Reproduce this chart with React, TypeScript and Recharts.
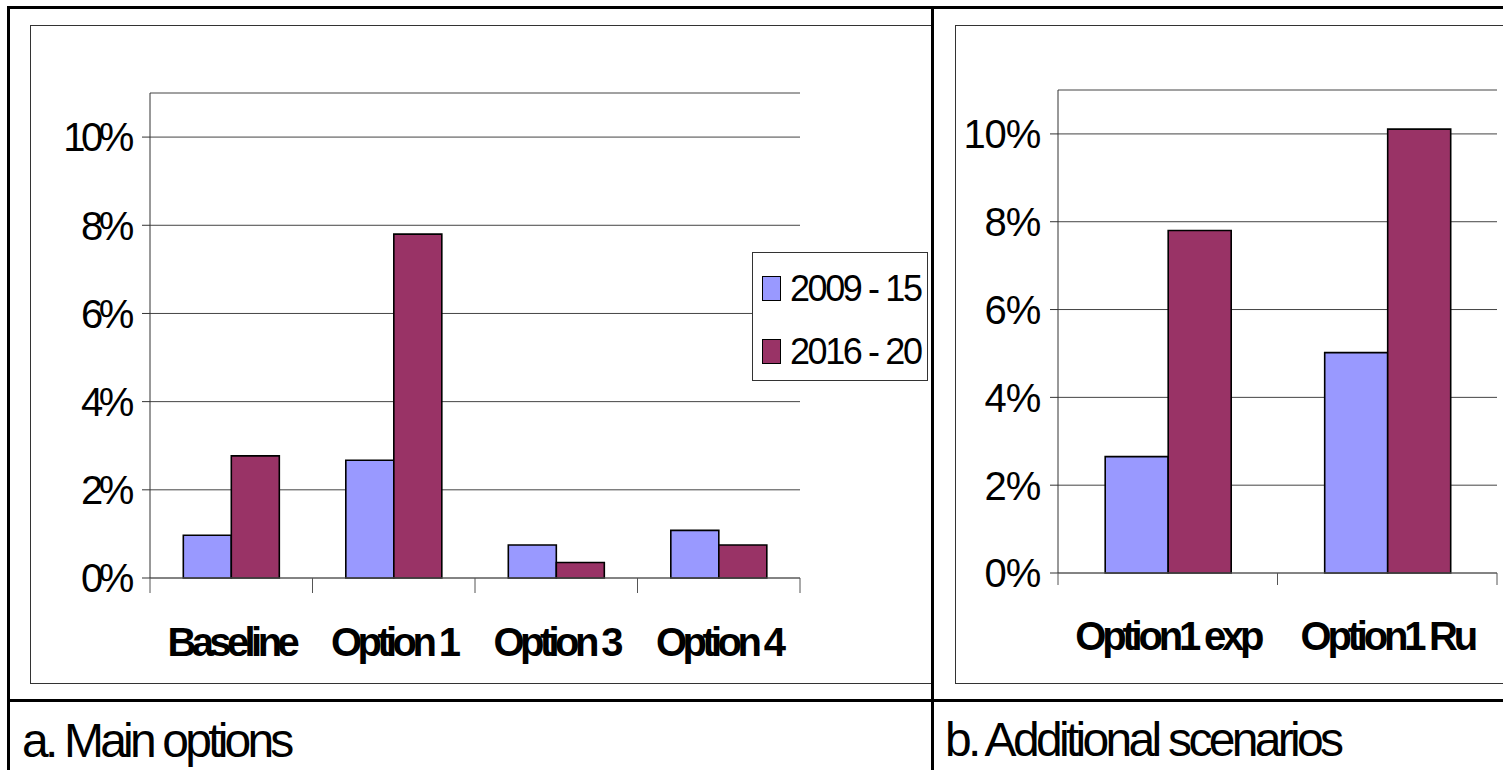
import React from "react";
import {
  BarChart,
  Bar,
  XAxis,
  YAxis,
  CartesianGrid,
  Legend,
} from "recharts";

const mainOptions = ["Baseline", "Option 1", "Option 3", "Option 4"];
const mainEarly = [0.97, 2.67, 0.75, 1.08];
const mainLate = [2.77, 7.8, 0.35, 0.75];

const extraScenarios = ["Option1 exp", "Option1 Ru"];
const extraEarly = [2.65, 5.02];
const extraLate = [7.8, 10.11];

const periods = ["2009 - 15", "2016 - 20"];
const yTicks = [0, 2, 4, 6, 8, 10];
const yMax = 11;

const BLUE = "#9999FF";
const MAROON = "#993366";
const FONT = "'Liberation Sans', Arial, sans-serif";

function buildRows(names: string[], early: number[], late: number[]) {
  return names.map((name, i) => ({ name, early: early[i], late: late[i] }));
}

const mainData = buildRows(mainOptions, mainEarly, mainLate);
const extraData = buildRows(extraScenarios, extraEarly, extraLate);

// category label plus the boundary tick marks Excel draws between groups
function CategoryTick(props: any) {
  const { x, y, payload, index, visibleTicksCount, tickLen, labelDy, spacing } = props;
  const half = payload?.offset ?? 0;
  return (
    <g>
      <line x1={x - half} x2={x - half} y1={y} y2={y + tickLen} stroke="#555" />
      {index === visibleTicksCount - 1 && (
        <line x1={x + half} x2={x + half} y1={y} y2={y + tickLen} stroke="#555" />
      )}
      <text
        x={x}
        y={y + labelDy}
        textAnchor="middle"
        fontFamily={FONT}
        fontWeight="bold"
        fontSize={40}
        letterSpacing={spacing}
        fill="#000"
      >
        {payload.value}
      </text>
    </g>
  );
}

function PercentTick(props: any) {
  const { x, y, payload, spacing } = props;
  return (
    <text
      x={x}
      y={y}
      dy="0.36em"
      textAnchor="end"
      fontFamily={FONT}
      fontSize={40}
      letterSpacing={spacing}
      fill="#000"
    >
      {payload.value}%
    </text>
  );
}

function LegendBox(props: any) {
  const items = props.payload || [];
  return (
    <div
      style={{
        boxSizing: "border-box",
        width: 176,
        height: 129,
        border: "1px solid #333",
        background: "#fff",
        paddingTop: 4,
      }}
    >
      {items.map((item: any) => (
        <div
          key={item.value}
          style={{ display: "flex", alignItems: "center", height: 63 }}
        >
          <span
            style={{
              display: "inline-block",
              boxSizing: "border-box",
              width: 19,
              height: 25,
              marginLeft: 9,
              marginRight: 9,
              background: item.color,
              border: "1.5px solid #000",
            }}
          />
          <span
            style={{
              fontFamily: FONT,
              fontSize: 36,
              letterSpacing: -2.4,
              color: "#000",
              lineHeight: 1,
            }}
          >
            {item.value}
          </span>
        </div>
      ))}
    </div>
  );
}

interface PanelProps {
  data: { name: string; early: number; late: number }[];
  width: number;
  height: number;
  margin: { top: number; right: number; bottom: number; left: number };
  yWidth: number;
  xHeight: number;
  gap: string;
  tickLen: number;
  labelDy: number;
  catSpacing: number;
  pctSpacing: number;
  pctMargin: number;
  legend?: boolean;
}

function Panel(p: PanelProps) {
  return (
    <BarChart
      width={p.width}
      height={p.height}
      data={p.data}
      margin={p.margin}
      barCategoryGap={p.gap}
      barGap={0}
    >
      <CartesianGrid vertical={false} stroke="#444" />
      <XAxis
        dataKey="name"
        height={p.xHeight}
        axisLine={{ stroke: "#666" }}
        tickLine={false}
        tickSize={0}
        tickMargin={0}
        interval={0}
        tick={(t: any) => (
          <CategoryTick
            {...t}
            tickLen={p.tickLen}
            labelDy={p.labelDy}
            spacing={p.catSpacing}
          />
        )}
      />
      <XAxis
        xAxisId="frame"
        dataKey="name"
        orientation="top"
        height={0}
        tick={false}
        tickLine={false}
        axisLine={{ stroke: "#8c8c8c", strokeWidth: 1.5 }}
      />
      <YAxis
        domain={[0, yMax]}
        ticks={yTicks}
        width={p.yWidth}
        axisLine={{ stroke: "#333" }}
        tickLine={{ stroke: "#333" }}
        tickSize={8}
        tickMargin={p.pctMargin}
        tick={(t: any) => <PercentTick {...t} spacing={p.pctSpacing} />}
      />
      <YAxis
        yAxisId="frame"
        orientation="right"
        domain={[0, yMax]}
        width={0}
        tick={false}
        tickLine={false}
        axisLine={{ stroke: "#8c8c8c", strokeWidth: 1.5 }}
      />
      {p.legend && (
        <Legend
          layout="horizontal"
          verticalAlign="middle"
          align="center"
          content={<LegendBox />}
          wrapperStyle={{ left: 722, top: 227, width: 176, height: 129 }}
        />
      )}
      <Bar
        dataKey="early"
        name={periods[0]}
        fill={BLUE}
        stroke="#000"
        strokeWidth={1.6}
        isAnimationActive={false}
      />
      <Bar
        dataKey="late"
        name={periods[1]}
        fill={MAROON}
        stroke="#000"
        strokeWidth={1.6}
        isAnimationActive={false}
      />
    </BarChart>
  );
}

export default function App() {
  return (
    <div
      style={{
        position: "absolute",
        left: 0,
        top: 0,
        width: 1503,
        height: 770,
        overflow: "hidden",
        background: "#fff",
      }}
    >
      <svg
        width={1503}
        height={770}
        style={{ position: "absolute", left: 0, top: 0 }}
      >
        <rect x={30.5} y={25.5} width={901} height={658} fill="none" stroke="#333" />
        <rect x={955.5} y={25.5} width={600} height={658} fill="none" stroke="#333" />
        <line x1={7} x2={1503} y1={7.5} y2={7.5} stroke="#000" strokeWidth={3} />
        <line x1={8.5} x2={8.5} y1={6} y2={770} stroke="#000" strokeWidth={3} />
        <line x1={932.5} x2={932.5} y1={6} y2={770} stroke="#000" strokeWidth={3} />
        <line x1={7} x2={1503} y1={700.5} y2={700.5} stroke="#000" strokeWidth={3} />
        <text x={22} y={757} fontFamily={FONT} fontSize={48} letterSpacing={-3.8} fill="#000">
          a. Main options
        </text>
        <text x={945} y={756} fontFamily={FONT} fontSize={48} letterSpacing={-3.7} fill="#000">
          b. Additional scenarios
        </text>
      </svg>

      <div style={{ position: "absolute", left: 30, top: 25 }}>
        <Panel
          data={mainData}
          width={902}
          height={659}
          margin={{ top: 68, right: 132, bottom: 0, left: 0 }}
          yWidth={120}
          xHeight={106}
          gap="20.5%"
          tickLen={15}
          labelDy={78}
          catSpacing={-4.6}
          pctSpacing={-4.4}
          pctMargin={12}
          legend
        />
      </div>

      <div style={{ position: "absolute", left: 955, top: 25 }}>
        <Panel
          data={extraData}
          width={548}
          height={659}
          margin={{ top: 65, right: 6, bottom: 0, left: 0 }}
          yWidth={103}
          xHeight={111}
          gap="21.5%"
          tickLen={12}
          labelDy={77}
          catSpacing={-4.2}
          pctSpacing={-1.2}
          pctMargin={10}
        />
      </div>
    </div>
  );
}
